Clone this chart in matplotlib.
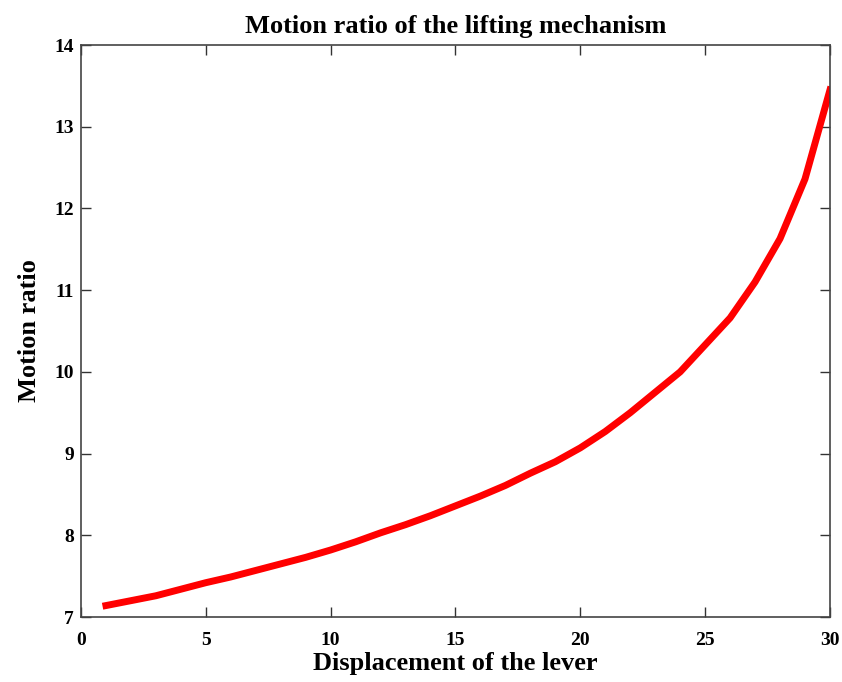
import numpy as np
import matplotlib
matplotlib.use("Agg")
import matplotlib.pyplot as plt

# displacement of the lever (x) and motion ratio (y)
displacement = [1, 2, 3, 4, 5, 6, 7, 8, 9, 10,
                11, 12, 13, 14, 15, 16, 17, 18, 19, 20,
                21, 22, 23, 24, 25, 26, 27, 28, 29, 30]
motion_ratio = [7.14, 7.20, 7.26, 7.34, 7.42, 7.49, 7.57, 7.65, 7.73, 7.82,
                7.92, 8.03, 8.13, 8.24, 8.36, 8.48, 8.61, 8.76, 8.90, 9.07,
                9.27, 9.50, 9.75, 10.00, 10.33, 10.66, 11.10, 11.63, 12.36, 13.45]

plt.rcParams["font.family"] = ["Liberation Serif", "DejaVu Serif"]
plt.rcParams["font.weight"] = "bold"

fig = plt.figure(figsize=(8.42, 6.82), dpi=100)
ax = fig.add_axes([0.0962, 0.0953, 0.8895, 0.8387])

ax.plot(displacement, motion_ratio, color="#ff0000", linewidth=5)

ax.set_xlim(0, 30)
ax.set_ylim(7, 14)
ax.set_xticks(np.arange(0, 31, 5))
ax.set_yticks(np.arange(7, 15, 1))
ax.tick_params(direction="in", top=True, right=True, length=7, width=1,
               labelsize=14, color="#333333")
ax.tick_params(axis="x", pad=11)
ax.tick_params(axis="y", pad=5)
for lbl in ax.get_xticklabels() + ax.get_yticklabels():
    lbl.set_fontweight("bold")
for sp in ax.spines.values():
    sp.set_color("#444444")
    sp.set_linewidth(1.2)

ax.set_title("Motion ratio of the lifting mechanism", fontsize=19,
             fontweight="bold", pad=9)
ax.set_xlabel("Displacement of the lever", fontsize=19, fontweight="bold",
              labelpad=2)
ax.set_ylabel("Motion ratio", fontsize=19, fontweight="bold", labelpad=10)

fig.savefig("out.png", dpi=100)
